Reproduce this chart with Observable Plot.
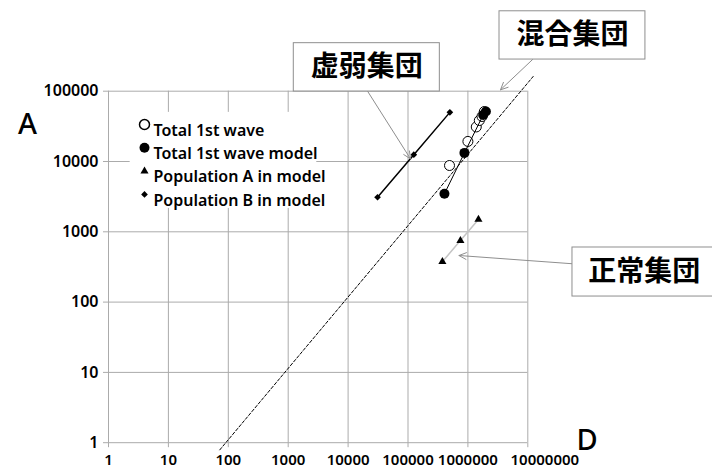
<!DOCTYPE html>
<html><head><meta charset="utf-8">
<script src="https://cdn.jsdelivr.net/npm/d3@7"></script>
<script src="https://cdn.jsdelivr.net/npm/@observablehq/plot@0.6"></script>
<style>
html,body{margin:0;padding:0;background:#fff;}
#chart{width:712px;height:469px;overflow:hidden;}
</style></head><body><div id="chart"></div>
<script>
// ---- data ----
const xTicks = [1, 10, 100, 1000, 10000, 100000, 1000000, 10000000];
const yTicks = [1, 10, 100, 1000, 10000, 100000];

const wave1D = [493000, 1000000, 1380000, 1550000, 1720000, 1880000];
const wave1A = [8770, 19300, 31000, 38300, 43700, 51400];

const modelD = [406000, 875000, 1800000, 2000000];
const modelA = [3475, 13250, 46000, 51500];

const popAD = [375000, 750000, 1500000];
const popAA = [375, 750, 1500];

const popBD = [31000, 125000, 500000];
const popBA = [3100, 12500, 50000];

const refLineD = [72, 12300000];
const refLineA = [0.79, 162000];

const legendLabels = ["Total 1st wave", "Total 1st wave model", "Population A in model", "Population B in model"];
const legendBoxD = [2.3, 3000];
const legendBoxA = [2150, 50000];

const calloutLabels = ["虚弱集団", "混合集団", "正常集団"];
const calloutBoxD1 = [1240, 3370000, 55700000];
const calloutBoxD2 = [340000, 920000000, 14000000000];
const calloutBoxA1 = [99000, 282000, 120];
const calloutBoxA2 = [482000, 1370000, 598];
const arrowFromD = [21300, 12000000, 55700000];
const arrowFromA = [99000, 282000, 351];
const arrowToD = [110000, 3500000, 710000];
const arrowToA = [10900, 104700, 460];

const axisLabelY = "A";
const axisLabelX = "D";

// ---- tables built from the arrays ----
const zip = (xs, ys) => xs.map((x, i) => ({x, y: ys[i]}));
const wave1 = zip(wave1D, wave1A);
const model = zip(modelD, modelA);
const popA = zip(popAD, popAA);
const popB = zip(popBD, popBA);
const refLine = zip(refLineD, refLineA);
const callouts = calloutLabels.map((label, i) => ({
  label,
  bx1: calloutBoxD1[i], bx2: calloutBoxD2[i], by1: calloutBoxA1[i], by2: calloutBoxA2[i],
  cx: Math.sqrt(calloutBoxD1[i] * calloutBoxD2[i]), cy: Math.sqrt(calloutBoxA1[i] * calloutBoxA2[i]),
  ax1: arrowFromD[i], ay1: arrowFromA[i], ax2: arrowToD[i], ay2: arrowToA[i]
}));

const fmt = d => String(d);
const gridGray = "#ababab";
const calloutGray = "#8e8e8e";
const xTickFont = {fontWeight: 600, fontSize: 15};
const yTickFont = {fontWeight: 600, fontSize: 16};

const legendStyles = [
  {symbol: "circle", r: 5, fill: "white", stroke: "black"},
  {symbol: "circle", r: 5, fill: "black"},
  {symbol: "triangle", r: 3, fill: "black"},
  {symbol: "diamond2", r: 3, fill: "black"}
];
const legendMarks = legendLabels.flatMap((label, i) => [
  Plot.dot([label], {frameAnchor: "top-left", dx: 36, dy: 33.3 + 23.3 * i, ...legendStyles[i]}),
  Plot.text([label], {frameAnchor: "top-left", dx: 45, dy: 33.3 + 23.3 * i, textAnchor: "start", fontWeight: 600, fontSize: 16})
]);

const chart = Plot.plot({
  width: 712,
  height: 469,
  marginLeft: 108,
  marginRight: 184.7,
  marginTop: 90.7,
  marginBottom: 26.8,
  x: {type: "log", domain: [1, 1e7]},
  y: {type: "log", domain: [1, 1e5]},
  style: {fontFamily: "'Noto Sans', sans-serif", fontSize: "16px", color: "#000", background: "#fff", overflow: "visible"},
  marks: [
    Plot.gridX(xTicks, {stroke: gridGray, strokeOpacity: 1}),
    Plot.gridY(yTicks, {stroke: gridGray, strokeOpacity: 1}),
    Plot.axisX(xTicks, {tickSize: 5, tickPadding: 6.5, stroke: gridGray, tickFormat: d => d === 1e7 ? "" : fmt(d), label: null, ...xTickFont}),
    Plot.text([1e7], {x: d => d, frameAnchor: "bottom", dy: 11.5, dx: 17, lineAnchor: "top", text: fmt, ...xTickFont}),
    Plot.axisY(yTicks, {tickSize: 5, tickPadding: 5, stroke: gridGray, tickFormat: fmt, label: null, ...yTickFont}),
    Plot.rect([0], {x1: legendBoxD[0], x2: legendBoxD[1], y1: legendBoxA[0], y2: legendBoxA[1], fill: "white"}),
    Plot.line(refLine, {x: "x", y: "y", stroke: "black", strokeWidth: 1, strokeDasharray: "3,2"}),
    Plot.line(popA, {x: "x", y: "y", stroke: "#c4c4c4", strokeWidth: 1.5}),
    Plot.line(popB, {x: "x", y: "y", stroke: "black", strokeWidth: 1.5}),
    Plot.dot(wave1, {x: "x", y: "y", r: 5, fill: "white", stroke: "black", strokeWidth: 1}),
    Plot.line(model, {x: "x", y: "y", stroke: "black", strokeWidth: 1}),
    Plot.dot(model, {x: "x", y: "y", r: 5, fill: "black"}),
    Plot.dot(popA, {x: "x", y: "y", symbol: "triangle", r: 3, fill: "black"}),
    Plot.dot(popB, {x: "x", y: "y", symbol: "diamond2", r: 3, fill: "black"}),
    ...legendMarks,
    Plot.arrow(callouts, {x1: "ax1", y1: "ay1", x2: "ax2", y2: "ay2", stroke: calloutGray, strokeWidth: 1, headLength: 12, headAngle: 50, insetStart: 0, insetEnd: 0}),
    Plot.rect(callouts, {x1: "bx1", x2: "bx2", y1: "by1", y2: "by2", fill: "white", stroke: calloutGray, strokeWidth: 1}),
    Plot.text(callouts, {x: "cx", y: "cy", text: "label", fontFamily: "'Noto Sans CJK JP', sans-serif", fontSize: 28, fontWeight: 700}),
    Plot.text([axisLabelY], {frameAnchor: "top-left", dx: -90.5, dy: 22.5, fontSize: 29, fontWeight: 500}),
    Plot.text([axisLabelX], {frameAnchor: "bottom-right", dx: 70, dy: 7, fontSize: 29, fontWeight: 500})
  ]
});
document.getElementById("chart").appendChild(chart);
</script>
</body></html>
